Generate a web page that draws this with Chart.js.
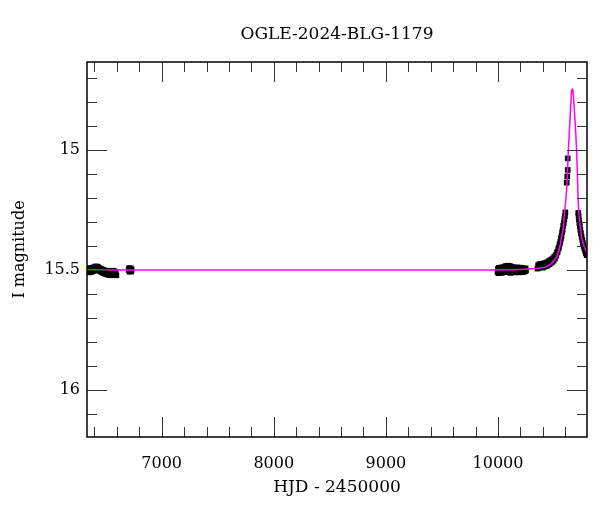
<!DOCTYPE html>
<html>
<head>
<meta charset="utf-8">
<title>OGLE-2024-BLG-1179</title>
<script src="https://cdn.jsdelivr.net/npm/chart.js@4.4.1/dist/chart.umd.min.js"></script>
<style>
  body { margin: 0; background: #fff; }
  canvas { display: block; }
</style>
</head>
<body>
<canvas id="lc" width="600" height="512"></canvas>
<script>
// photometry (HJD - 2450000, I mag)
const hjd = [
  6338, 6342, 6346, 6350, 6354, 6358, 6362, 6366, 6370, 6374, 6378, 6382, 6386, 6390, 6394,
  6398, 6402, 6406, 6410, 6414, 6418, 6422, 6426, 6430, 6434, 6438, 6442, 6446, 6450, 6455,
  6460, 6465, 6470, 6475, 6480, 6485, 6490, 6495, 6500, 6505, 6510, 6515, 6520, 6525, 6530,
  6535, 6540, 6545, 6550, 6555, 6560, 6565, 6570, 6575, 6580, 6585, 6590, 6596,
  6706, 6710, 6714, 6718, 6722, 6726, 6729, 6732,
  9996, 10000, 10004, 10008, 10012, 10016, 10020, 10025, 10030, 10035, 10040, 10045, 10050,
  10055, 10060, 10065, 10070, 10075, 10080, 10085, 10090, 10095, 10100, 10105, 10110, 10115,
  10120, 10125, 10130, 10135, 10140, 10145, 10150, 10155, 10160, 10165, 10170, 10175, 10180,
  10185, 10190, 10195, 10200, 10205, 10210, 10215, 10220, 10225, 10230, 10235, 10240, 10245, 10250,
  10352, 10358, 10364, 10370, 10376, 10382, 10388, 10394, 10400, 10406, 10412, 10418, 10424,
  10430, 10436, 10442, 10448, 10454, 10460, 10466, 10472, 10478, 10484, 10490, 10496, 10502,
  10508, 10514, 10520, 10526, 10532, 10538, 10544, 10550, 10556, 10562, 10567, 10572, 10577,
  10582, 10587, 10592, 10597, 10601,
  10613, 10618, 10622, 10622,
  10716, 10719, 10722, 10726, 10730, 10735, 10740, 10746, 10752, 10758, 10764, 10770, 10777, 10784, 10791
]
const mag = [
  15.500, 15.507, 15.494, 15.504, 15.510, 15.497, 15.492, 15.505, 15.495, 15.508, 15.499, 15.491, 15.505, 15.496, 15.489,
  15.501, 15.493, 15.486, 15.498, 15.490, 15.485, 15.495, 15.487, 15.499, 15.489, 15.502, 15.492, 15.503, 15.494, 15.506,
  15.496, 15.508, 15.498, 15.511, 15.501, 15.513, 15.502, 15.515, 15.504, 15.516, 15.503, 15.518, 15.506, 15.520, 15.505,
  15.521, 15.508, 15.522, 15.506, 15.520, 15.504, 15.518, 15.503, 15.519, 15.506, 15.521, 15.508, 15.522,
  15.500, 15.492, 15.507, 15.496, 15.504, 15.493, 15.506, 15.499,
  15.508, 15.495, 15.513, 15.491, 15.505, 15.511, 15.494, 15.507, 15.489, 15.512, 15.499, 15.490, 15.509,
  15.494, 15.486, 15.506, 15.484, 15.501, 15.490, 15.482, 15.508, 15.487, 15.500, 15.483, 15.512, 15.492,
  15.486, 15.505, 15.489, 15.501, 15.510, 15.490, 15.503, 15.493, 15.508, 15.496, 15.489, 15.505, 15.494,
  15.510, 15.497, 15.490, 15.507, 15.495, 15.509, 15.492, 15.504, 15.494, 15.508, 15.496, 15.505, 15.493, 15.502,
  15.494, 15.480, 15.490, 15.476, 15.489, 15.475, 15.488, 15.478, 15.490, 15.473, 15.486, 15.472, 15.484,
  15.470, 15.482, 15.467, 15.478, 15.463, 15.476, 15.460, 15.470, 15.456, 15.466, 15.452, 15.461, 15.446,
  15.452, 15.438, 15.440, 15.427, 15.425, 15.411, 15.405, 15.392, 15.383, 15.368, 15.357, 15.343, 15.332,
  15.316, 15.304, 15.288, 15.275, 15.260,
  15.136, 15.110, 15.083, 15.035,
  15.262, 15.275, 15.290, 15.305, 15.318, 15.333, 15.347, 15.362, 15.375, 15.388, 15.400, 15.410, 15.420, 15.430, 15.438
]

// microlensing model curve
const modelHjd = [6334, 9800, 10200, 10300, 10400, 10434, 10480, 10508, 10530, 10553, 10568, 10583,
  10598, 10607, 10617, 10627, 10642, 10652, 10658, 10663, 10668, 10675, 10687, 10702, 10716,
  10731, 10745, 10761, 10794]
const modelMag = [15.500, 15.500, 15.498, 15.495, 15.490, 15.486, 15.472, 15.455, 15.440, 15.400, 15.360, 15.320,
  15.240, 15.200, 15.120, 15.010, 14.875, 14.790, 14.750, 14.746, 14.750, 14.790, 14.875, 15.010, 15.220,
  15.310, 15.360, 15.390, 15.430]

const xTicks = [7000, 8000, 9000, 10000]
const xMinor = [6400, 6600, 6800, 7200, 7400, 7600, 7800, 8200, 8400, 8600, 8800,
  9200, 9400, 9600, 9800, 10200, 10400, 10600]
const yTicks = [15, 15.5, 16]
const yMinor = [14.7, 14.8, 14.9, 15.1, 15.2, 15.3, 15.4, 15.6, 15.7, 15.8, 15.9, 16.1]

const titleText = 'OGLE-2024-BLG-1179'
const serif = 'DejaVu Serif'

// frame with inward ticks on all four sides, title centred over the frame
const frameTicks = {
  id: 'frameTicks',
  afterDatasetsDraw(chart) {
    const { ctx, chartArea: a, scales: { x, y } } = chart
    ctx.save()
    ctx.strokeStyle = '#333'
    ctx.lineWidth = 1
    ctx.beginPath()
    const xt = (v, len) => {
      const px = Math.round(x.getPixelForValue(v)) + 0.5
      ctx.moveTo(px, a.bottom); ctx.lineTo(px, a.bottom - len)
      ctx.moveTo(px, a.top); ctx.lineTo(px, a.top + len)
    }
    const yt = (v, len) => {
      const py = Math.round(y.getPixelForValue(v)) + 0.5
      ctx.moveTo(a.left, py); ctx.lineTo(a.left + len, py)
      ctx.moveTo(a.right, py); ctx.lineTo(a.right - len, py)
    }
    xMinor.forEach(v => xt(v, 10))
    xTicks.forEach(v => xt(v, 20))
    yMinor.forEach(v => yt(v, 10))
    yTicks.forEach(v => yt(v, 20))
    ctx.stroke()
    ctx.strokeStyle = '#000'
    ctx.lineWidth = 1.5
    ctx.strokeRect(a.left, a.top, a.right - a.left, a.bottom - a.top)

    ctx.fillStyle = '#000'
    ctx.font = '17px "' + serif + '"'
    ctx.textAlign = 'center'
    ctx.textBaseline = 'middle'
    ctx.fillText(titleText, (a.left + a.right) / 2, 35)
    ctx.restore()
  }
}

new Chart(document.getElementById('lc'), {
  type: 'scatter',
  data: {
    datasets: [
      {
        label: 'model',
        type: 'line',
        data: modelHjd.map((t, i) => ({ x: t, y: modelMag[i] })),
        borderColor: '#ff00ff',
        borderWidth: 1.5,
        pointRadius: 0,
        cubicInterpolationMode: 'monotone',
        clip: 0,
        order: 0
      },
      {
        label: 'OGLE',
        data: hjd.map((t, i) => ({ x: t, y: mag[i] })),
        pointStyle: 'rect',
        pointRadius: 4,
        borderWidth: 0,
        backgroundColor: '#000',
        clip: 0,
        order: 1
      }
    ]
  },
  options: {
    responsive: false,
    animation: false,
    devicePixelRatio: 1,
    layout: { padding: { left: 0, right: 13, top: 62, bottom: 0 } },
    plugins: {
      legend: { display: false },
      tooltip: { enabled: false },
      title: { display: false }
    },
    scales: {
      x: {
        type: 'linear',
        min: 6334,
        max: 10794,
        grid: { display: false, drawTicks: false },
        border: { display: false },
        afterBuildTicks: s => { s.ticks = xTicks.map(v => ({ value: v })) },
        afterFit: s => { s.height = 75 },
        ticks: {
          color: '#000',
          font: { family: serif, size: 16 },
          padding: 17,
          maxRotation: 0,
          autoSkip: false,
          callback: v => String(v)
        },
        title: {
          display: true,
          text: 'HJD - 2450000',
          color: '#000',
          font: { family: serif, size: 17 },
          padding: { top: 0, bottom: 14 }
        }
      },
      y: {
        type: 'linear',
        reverse: true,
        min: 14.633,
        max: 16.196,
        grid: { display: false, drawTicks: false },
        border: { display: false },
        afterBuildTicks: s => { s.ticks = yTicks.map(v => ({ value: v })) },
        afterFit: s => { s.width = 87 },
        ticks: {
          color: '#000',
          font: { family: serif, size: 16 },
          padding: 7,
          autoSkip: false,
          callback: v => String(v)
        },
        title: {
          display: true,
          text: 'I magnitude',
          color: '#000',
          font: { family: serif, size: 16 },
          padding: { top: 10, bottom: 0 }
        }
      }
    }
  },
  plugins: [frameTicks]
})
</script>
</body>
</html>
